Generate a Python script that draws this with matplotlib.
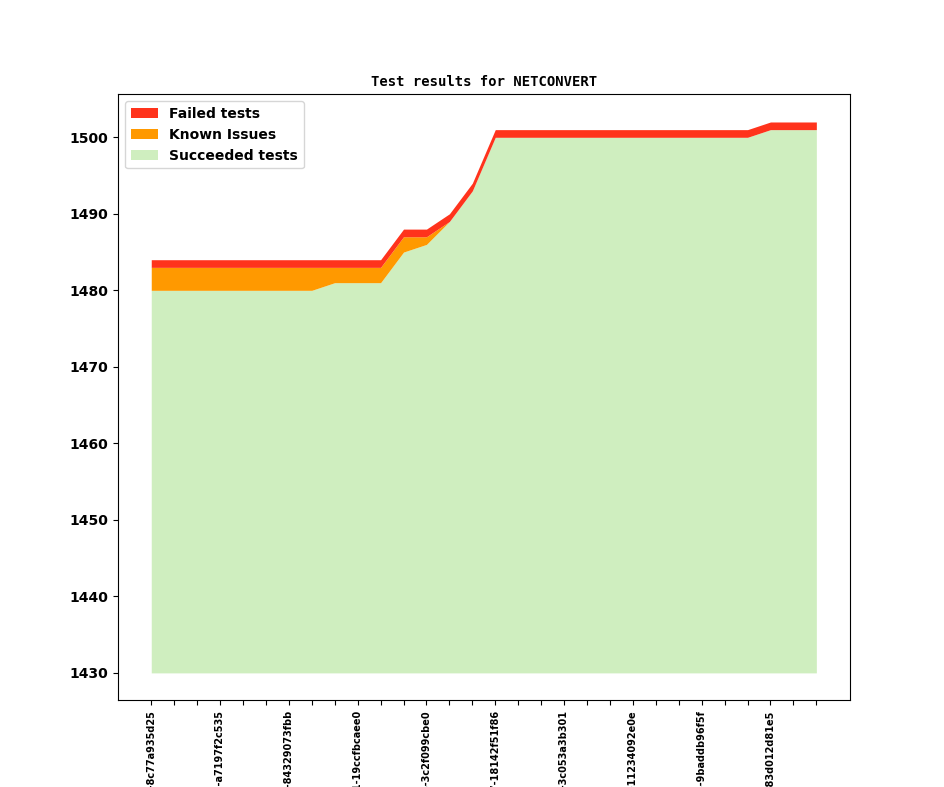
import numpy as np
from matplotlib import pyplot as plt

# test counts per revision
succeeded = [1480, 1480, 1480, 1480, 1480, 1480, 1480, 1480, 1481, 1481,
             1481, 1485, 1486, 1489, 1493, 1500, 1500, 1500, 1500, 1500,
             1500, 1500, 1500, 1500, 1500, 1500, 1500, 1501, 1501, 1501]
known = [3, 3, 3, 3, 3, 3, 3, 3, 2, 2,
         2, 2, 1, 0, 0, 0, 0, 0, 0, 0,
         0, 0, 0, 0, 0, 0, 0, 0, 0, 0]
failed = [1] * 30

revisions = ['v1_1_0+0712-8c77a935d25', 'v1_1_0+0735-a7197f2c535',
             'v1_1_0+0758-84329073fbb', 'v1_1_0+0781-19ccfbcaee0',
             'v1_1_0+0804-3c2f099cbe0', 'v1_1_0+0827-18142f51f86',
             'v1_1_0+0850-3c053a3b301', 'v1_1_0+0873-11234092e0e',
             'v1_1_0+0896-9baddb96f5f', 'v1_1_0+0919-83d012d81e5']

base = 1430
x = np.arange(len(succeeded))
s = np.array(succeeded)
k = s + np.array(known)
f = k + np.array(failed)

fig = plt.figure(figsize=(9.44, 7.87), dpi=100)
ax = fig.add_subplot(111)
ax.fill_between(x, base, s, color='#cfeebf', linewidth=0, label='Succeeded tests')
ax.fill_between(x, s, k, color='#ff9900', linewidth=0, label='Known Issues')
ax.fill_between(x, k, f, color='#ff331c', linewidth=0, label='Failed tests')

labels = [''] * len(x)
for i, r in enumerate(revisions):
    labels[i * 3] = r
ax.set_xticks(x)
ax.set_xticklabels(labels, rotation=90, fontsize=7, fontweight='bold')
for t in ax.get_yticklabels():
    t.set_fontweight('bold')
    t.set_fontsize(10)

h, l = ax.get_legend_handles_labels()
ax.legend(h[::-1], l[::-1], loc='upper left', prop={'weight': 'bold', 'size': 10})
ax.set_title('Test results for NETCONVERT', fontsize=10, fontweight='bold', family='DejaVu Sans Mono')

plt.savefig('out.png')
